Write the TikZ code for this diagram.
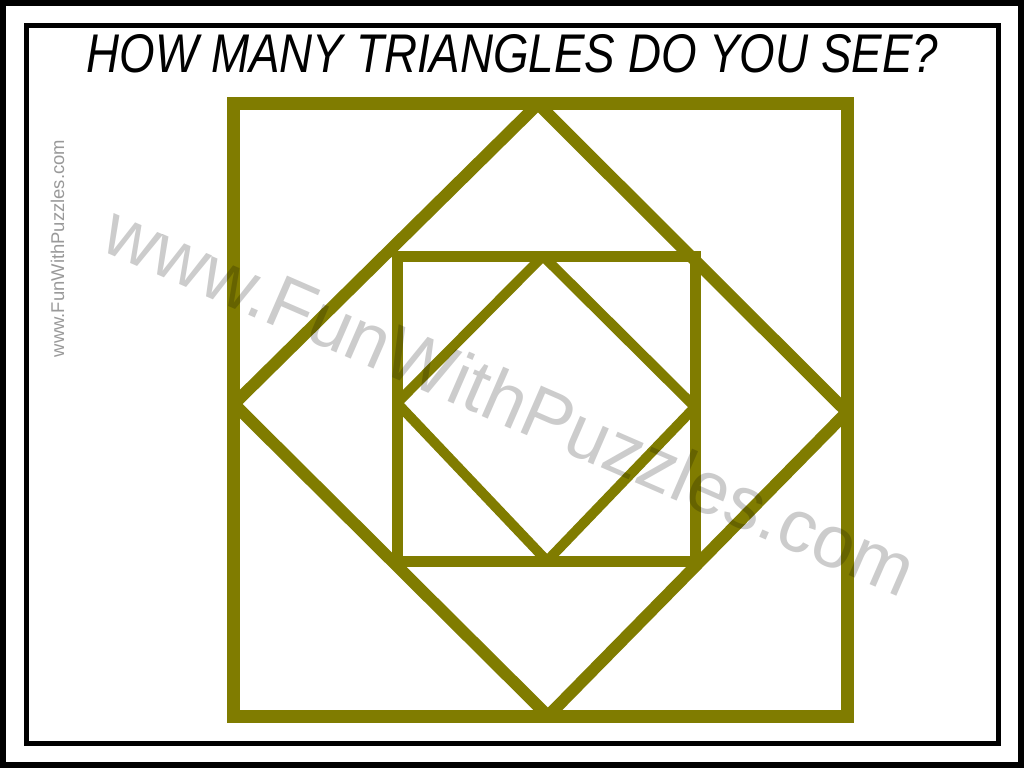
\documentclass[tikz,border=0pt]{standalone}
\usepackage{fontspec}
\setmainfont{Liberation Sans}
\usepackage{tikz}
\definecolor{puzzleolive}{RGB}{128,124,0}

\begin{document}
\begin{tikzpicture}[x=0.02cm, y=-0.02cm,
		frameline/.style={draw=black, line width=#1},
		oliveline/.style={draw=puzzleolive, line width=#1},
		sqline/.style={oliveline=#1, line join=miter},
		dmline/.style={oliveline=#1, line join=bevel}]
		%%%%% START %%%%%
		\useasboundingbox (0, 0) rectangle (1024, 768);
		\fill[white] (0, 0) rectangle (1024, 768);
		
		% frames
		\draw[frameline=0.12cm] (3, 3) rectangle (1021, 765);
		\draw[frameline=0.1cm] (26.5, 25.5) rectangle (998, 743);
		
		% title
		\node[anchor=base, xscale=0.84, font=\fontsize{31}{36}\selectfont\itshape] (title) at (512.5, 72) {HOW MANY TRIANGLES DO YOU SEE?};
		
		% outer square and diamond
		\draw[sqline=0.26cm] (233.5, 103.5) rectangle (847.5, 716.5);
		\draw[dmline=0.24cm] (538, 104) -- (847, 412) -- (548, 716) -- (234, 404) -- cycle;
		
		% inner square and diamond
		\draw[sqline=0.22cm] (397, 256) rectangle (695.5, 561);
		\draw[dmline=0.2cm] (543, 256) -- (695, 407) -- (547, 561) -- (397, 403) -- cycle;
		
		% watermarks
		\node[anchor=base, rotate=-23.5, text=black, text opacity=0.2, font=\fontsize{42.3}{50}\selectfont] (mark) at (500, 424) {www.FunWithPuzzles.com};
		\node[rotate=90, text=black!40, font=\fontsize{10.5}{12}\selectfont] (sidemark) at (57.5, 248.5) {www.FunWithPuzzles.com};
		%%%%% END %%%%%
	\end{tikzpicture}
\end{document}
